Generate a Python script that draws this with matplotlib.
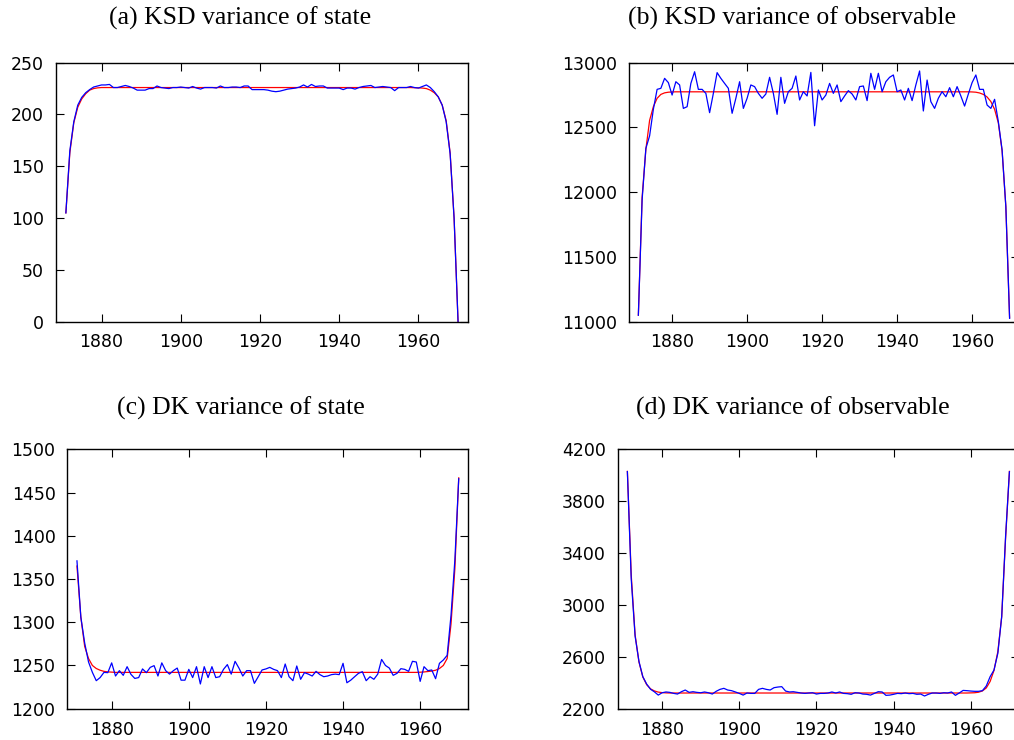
import numpy as np
import matplotlib.pyplot as plt

# Years of the series (1871-1970)
years = np.arange(1871, 1971)

# (a) KSD variance of state: exact (red) and simulated (blue)
ksd_state_exact = [
    105, 163, 192, 207, 215, 220, 223.5, 225, 225.7, 226,
    226, 226, 226, 226, 226, 226, 226, 226, 226, 226,
    226, 226, 226, 226, 226, 226, 226, 226, 226, 226,
    226, 226, 226, 226, 226, 226, 226, 226, 226, 226,
    226, 226, 226, 226, 226, 226, 226, 226, 226, 226,
    226, 226, 226, 226, 226, 226, 226, 226, 226, 226,
    226, 226, 226, 226, 226, 226, 226, 226, 226, 226,
    226, 226, 226, 226, 226, 226, 226, 226, 226, 226,
    226, 226, 226, 226, 226, 226, 226, 226, 225.8, 225.7,
    225.5, 225, 223.5, 221, 217, 209, 194, 163, 100, 0,
]
ksd_state_sim = [
    105, 165, 193, 209, 216.5, 221, 224, 226.5, 227.5, 228.5,
    228.5, 229, 226, 226, 227, 228, 227, 225.5, 223.5, 223.5,
    223.5, 225, 225, 227.5, 226, 225.5, 225, 226, 226, 226.5,
    226, 225.5, 227, 225.5, 224.5, 226, 226, 226, 225.5, 227.5,
    226, 226, 226.5, 226.5, 226, 227.5, 227.5, 224, 224, 224,
    224, 223.5, 222.5, 222, 222.5, 223.5, 224.5, 225, 225.5, 226.5,
    228.5, 226.5, 229, 227, 227.5, 227.5, 225.5, 225.5, 225.5, 225.5,
    224, 225.5, 225.5, 224.5, 226, 227, 227.5, 228, 226, 226.5,
    227, 226.5, 226, 223, 226, 226, 226, 227, 226, 225.5,
    227, 228.5, 226, 222, 217, 209, 193, 162, 100, 0,
]

# (b) KSD variance of observable
ksd_obs_exact = [
    11050, 11960, 12330, 12555, 12660, 12725, 12755, 12767, 12772, 12774,
    12775, 12775, 12775, 12775, 12775, 12775, 12775, 12775, 12775, 12775,
    12775, 12775, 12775, 12775, 12775, 12775, 12775, 12775, 12775, 12775,
    12775, 12775, 12775, 12775, 12775, 12775, 12775, 12775, 12775, 12775,
    12775, 12775, 12775, 12775, 12775, 12775, 12775, 12775, 12775, 12775,
    12775, 12775, 12775, 12775, 12775, 12775, 12775, 12775, 12775, 12775,
    12775, 12775, 12775, 12775, 12775, 12775, 12775, 12775, 12775, 12775,
    12775, 12775, 12775, 12775, 12775, 12775, 12775, 12775, 12775, 12775,
    12775, 12775, 12775, 12775, 12775, 12775, 12775, 12775, 12775, 12774,
    12772, 12766, 12755, 12735, 12700, 12640, 12535, 12320, 11890, 11030,
]
ksd_obs_sim = [
    11050, 11940, 12338, 12435, 12640, 12794, 12802, 12879, 12846, 12750,
    12853, 12828, 12647, 12660, 12840, 12930, 12794, 12794, 12763, 12614,
    12763, 12923, 12879, 12840, 12802, 12609, 12725, 12853, 12647, 12725,
    12828, 12815, 12763, 12725, 12758, 12887, 12763, 12601, 12887, 12686,
    12776, 12802, 12897, 12712, 12776, 12743, 12925, 12513, 12789, 12712,
    12750, 12840, 12763, 12828, 12699, 12743, 12784, 12758, 12712, 12815,
    12820, 12707, 12918, 12794, 12918, 12776, 12853, 12887, 12905, 12776,
    12789, 12712, 12802, 12707, 12828, 12936, 12627, 12866, 12699, 12647,
    12725, 12776, 12737, 12807, 12737, 12815, 12743, 12665, 12758, 12846,
    12905, 12794, 12794, 12673, 12647, 12717, 12544, 12326, 11888, 11026,
]

# (c) DK variance of state
dk_state_exact = [
    1365, 1306, 1272, 1258, 1250, 1246.5, 1244.5, 1243.2, 1242.6, 1242.3,
    1242, 1242, 1242, 1242, 1242, 1242, 1242, 1242, 1242, 1242,
    1242, 1242, 1242, 1242, 1242, 1242, 1242, 1242, 1242, 1242,
    1242, 1242, 1242, 1242, 1242, 1242, 1242, 1242, 1242, 1242,
    1242, 1242, 1242, 1242, 1242, 1242, 1242, 1242, 1242, 1242,
    1242, 1242, 1242, 1242, 1242, 1242, 1242, 1242, 1242, 1242,
    1242, 1242, 1242, 1242, 1242, 1242, 1242, 1242, 1242, 1242,
    1242, 1242, 1242, 1242, 1242, 1242, 1242, 1242, 1242, 1242,
    1242, 1242, 1242, 1242, 1242, 1242, 1242, 1242, 1242, 1242.2,
    1242.5, 1243, 1243.5, 1244.5, 1246.5, 1250, 1258, 1298, 1362, 1467,
]
dk_state_sim = [
    1371, 1306, 1276, 1254, 1242, 1232.4, 1236, 1242, 1241.7, 1253,
    1237.8, 1244, 1238.6, 1248.6, 1239.7, 1235, 1236, 1246, 1241.7, 1247.8,
    1249.8, 1237.8, 1253, 1244, 1240, 1244, 1247, 1233, 1233, 1245.5,
    1236, 1248.6, 1228.6, 1248.6, 1236, 1248.6, 1236, 1237, 1245.5, 1251,
    1240, 1254.8, 1247, 1237.8, 1244, 1244, 1229.3, 1237, 1244.8, 1246,
    1247.8, 1245.5, 1244, 1236, 1251.7, 1237, 1232.4, 1249.4, 1234, 1241.7,
    1240, 1237.8, 1243.2, 1239.4, 1237, 1237.8, 1239.4, 1240, 1239.4, 1252.5,
    1230, 1233, 1237, 1240.9, 1242.8, 1232.4, 1237, 1234, 1240, 1257,
    1250, 1247, 1238.6, 1240.9, 1246.3, 1245.5, 1243.2, 1254.8, 1254, 1231.6,
    1248.6, 1244, 1244.8, 1234.7, 1252.5, 1256.3, 1261.7, 1308, 1372, 1466,
]

# (d) DK variance of observable
dk_obs_exact = [
    4030, 3230, 2770, 2560, 2445, 2385, 2353, 2337, 2328, 2324,
    2322, 2321, 2321, 2321, 2321, 2321, 2321, 2321, 2321, 2321,
    2321, 2321, 2321, 2321, 2321, 2321, 2321, 2321, 2321, 2321,
    2321, 2321, 2321, 2321, 2321, 2321, 2321, 2321, 2321, 2321,
    2321, 2321, 2321, 2321, 2321, 2321, 2321, 2321, 2321, 2321,
    2321, 2321, 2321, 2321, 2321, 2321, 2321, 2321, 2321, 2321,
    2321, 2321, 2321, 2321, 2321, 2321, 2321, 2321, 2321, 2321,
    2321, 2321, 2321, 2321, 2321, 2321, 2321, 2321, 2321, 2321,
    2321, 2321, 2321, 2321, 2321, 2321, 2321, 2321, 2321, 2322,
    2323, 2327, 2337, 2360, 2410, 2495, 2640, 2910, 3510, 4030,
]
dk_obs_sim = [
    4028, 3200, 2760, 2565, 2447, 2390, 2350, 2330, 2305, 2323,
    2329, 2326, 2318, 2313, 2331, 2344, 2326, 2331, 2326, 2323,
    2329, 2323, 2313, 2334, 2349, 2357, 2344, 2339, 2329, 2318,
    2305, 2321, 2318, 2318, 2349, 2357, 2349, 2344, 2362, 2367,
    2370, 2336, 2329, 2331, 2326, 2321, 2318, 2321, 2323, 2313,
    2318, 2318, 2321, 2329, 2321, 2329, 2318, 2316, 2311, 2323,
    2321, 2313, 2311, 2305, 2318, 2331, 2329, 2303, 2305, 2311,
    2318, 2316, 2321, 2316, 2318, 2311, 2313, 2298, 2311, 2321,
    2321, 2318, 2323, 2321, 2329, 2303, 2321, 2341, 2339, 2336,
    2334, 2334, 2339, 2375, 2447, 2498, 2627, 2910, 3526, 4027,
]

titles = ["(a) KSD variance of state", "(b) KSD variance of observable",
          "(c) DK variance of state", "(d) DK variance of observable"]
xticks = [1880, 1900, 1920, 1940, 1960]

fig = plt.figure(figsize=(10.14, 7.4), dpi=100)

# axes rectangles in figure coords; the right column runs past the edge
rects = [
    [0.0552, 0.5653, 0.4063, 0.3500],
    [0.6203, 0.5653, 0.3846, 0.3500],
    [0.0664, 0.0423, 0.3955, 0.3505],
    [0.6092, 0.0423, 0.3958, 0.3505],
]
panels = [
    (ksd_state_exact, ksd_state_sim, (0, 250), np.arange(0, 251, 50)),
    (ksd_obs_exact, ksd_obs_sim, (11000, 13000), np.arange(11000, 13001, 500)),
    (dk_state_exact, dk_state_sim, (1200, 1500), np.arange(1200, 1501, 50)),
    (dk_obs_exact, dk_obs_sim, (2200, 4200), np.arange(2200, 4201, 400)),
]
title_pos = [(0.2367, 0.9757), (0.781, 0.9757), (0.2377, 0.4486), (0.782, 0.4486)]

for rect, (exact, sim, ylim, yticks), title, tpos in zip(rects, panels, titles, title_pos):
    ax = fig.add_axes(rect)
    ax.plot(years, exact, color=(1, 0, 0), lw=0.9)
    ax.plot(years, sim, color=(0, 0, 1), lw=0.9)
    ax.set_xlim(1868.5, 1972.5)
    ax.set_ylim(*ylim)
    ax.set_xticks(xticks)
    ax.set_yticks(yticks)
    ax.tick_params(direction='in', top=True, right=True, length=5.5,
                   width=0.8, labelsize=12.5, pad=8.5, colors='black')
    for s in ax.spines.values():
        s.set_linewidth(1.0)
    fig.text(tpos[0], tpos[1], title, ha='center', va='center',
             family='Liberation Serif', fontsize=18.5)

plt.savefig('out.png', dpi=100)
